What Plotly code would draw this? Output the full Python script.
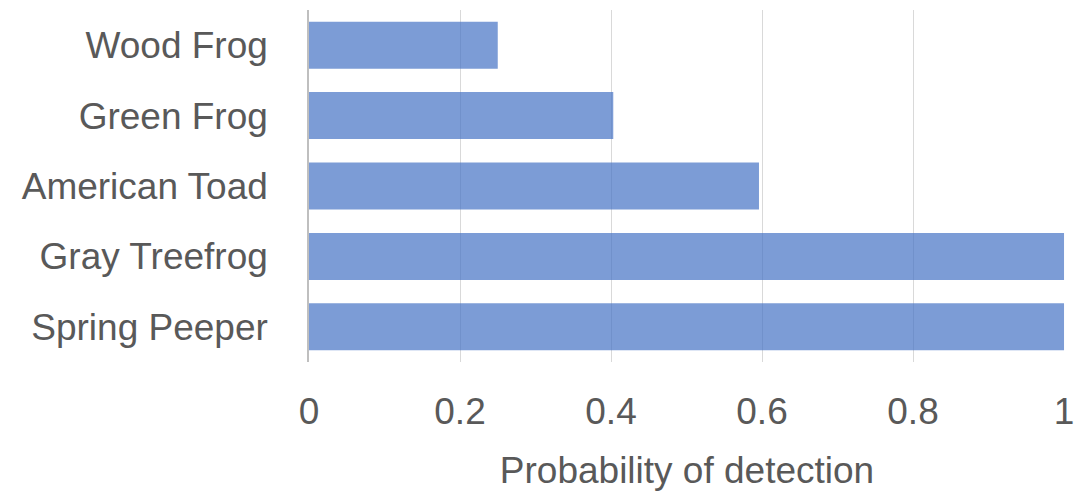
import plotly.graph_objects as go

species = ["Wood Frog", "Green Frog", "American Toad", "Gray Treefrog", "Spring Peeper"]
probability = [0.25, 0.403, 0.596, 1.0, 1.0]
x_ticks = [0, 0.2, 0.4, 0.6, 0.8, 1]
x_tick_labels = ["0", "0.2", "0.4", "0.6", "0.8", "1"]

fig = go.Figure(go.Bar(
    x=probability,
    y=species,
    orientation="h",
    marker=dict(color="rgba(68,114,196,0.7)", line=dict(width=0)),
))

font_family = "Liberation Sans, Arial, sans-serif"
text_color = "#595959"

# page body has an 8px default margin, so the figure is sized to fit the window
fig.update_layout(
    width=1080, height=484,
    margin=dict(l=301, r=23, t=2, b=130),
    paper_bgcolor="white", plot_bgcolor="white",
    bargap=0.333,
    showlegend=False,
    font=dict(family=font_family, size=37, color=text_color),
    xaxis=dict(
        range=[0, 1.0013],
        tickvals=x_ticks,
        ticktext=x_tick_labels,
        showgrid=True, gridcolor="#d9d9d9", gridwidth=1,
        zeroline=False, showline=False,
        ticks="", ticklabelstandoff=24,
        tickfont=dict(size=37, color=text_color),
        title=dict(text="Probability of detection", standoff=26,
                   font=dict(size=37, color=text_color)),
    ),
    yaxis=dict(
        categoryorder="array",
        categoryarray=species[::-1],
        showgrid=False, zeroline=False,
        showline=True, linecolor="#bfbfbf", linewidth=1.5,
        ticks="", ticklabelstandoff=32,
        tickfont=dict(size=37, color=text_color),
    ),
)

fig.write_html("out.html")
